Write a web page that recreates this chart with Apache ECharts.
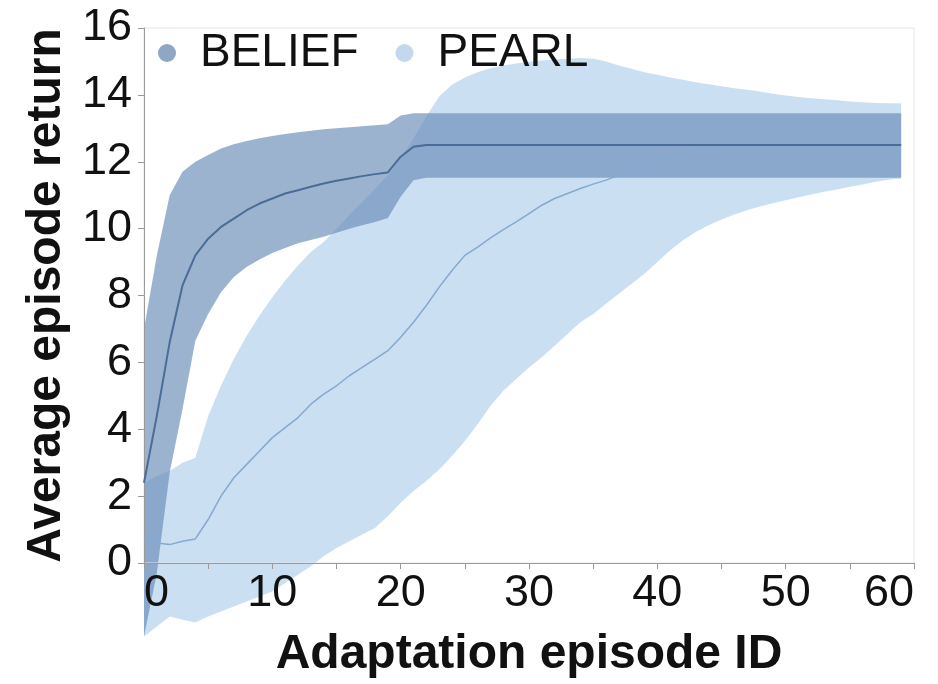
<!DOCTYPE html>
<html>
<head>
<meta charset="utf-8">
<script src="https://cdn.jsdelivr.net/npm/echarts@6/dist/echarts.min.js"></script>
<style>
html,body{margin:0;padding:0;background:#fff;}
#chart{width:938px;height:684px;}
</style>
</head>
<body>
<div id="chart"></div>
<script>
// ---- data ----
const episodes = [0,1,2,3,4,5,6,7,8,9,10,11,12,13,14,15,16,17,18,19,20,21,22,23,24,25,26,27,28,29,30,31,32,33,34,35,36,37,38,39,40,41,42,43,44,45,46,47,48,49,50,51,52,53,54,55,56,57,58,59];

const beliefMean = [2.4,4.4,6.6,8.3,9.2,9.7,10.05,10.3,10.55,10.75,10.9,11.05,11.15,11.25,11.35,11.43,11.5,11.57,11.63,11.68,12.15,12.45,12.5,12.5,12.5,12.5,12.5,12.5,12.5,12.5,12.5,12.5,12.5,12.5,12.5,12.5,12.5,12.5,12.5,12.5,12.5,12.5,12.5,12.5,12.5,12.5,12.5,12.5,12.5,12.5,12.5,12.5,12.5,12.5,12.5,12.5,12.5,12.5,12.5,12.5];
const beliefUpper = [7.0,9.2,11.0,11.7,12.0,12.2,12.4,12.52,12.62,12.7,12.77,12.83,12.88,12.93,12.97,13.0,13.03,13.06,13.09,13.12,13.38,13.45,13.45,13.45,13.45,13.45,13.45,13.45,13.45,13.45,13.45,13.45,13.45,13.45,13.45,13.45,13.45,13.45,13.45,13.45,13.45,13.45,13.45,13.45,13.45,13.45,13.45,13.45,13.45,13.45,13.45,13.45,13.45,13.45,13.45,13.45,13.45,13.45,13.45,13.45];
const beliefLower = [-2.2,-0.3,2.7,4.6,6.65,7.45,8.1,8.55,8.85,9.08,9.27,9.42,9.56,9.66,9.76,9.88,10.0,10.1,10.2,10.32,10.95,11.45,11.52,11.52,11.52,11.52,11.52,11.52,11.52,11.52,11.52,11.52,11.52,11.52,11.52,11.52,11.52,11.52,11.52,11.52,11.52,11.52,11.52,11.52,11.52,11.52,11.52,11.52,11.52,11.52,11.52,11.52,11.52,11.52,11.52,11.52,11.52,11.52,11.52,11.52];

const pearlMean = [0.75,0.6,0.55,0.65,0.72,1.3,2.0,2.55,2.95,3.35,3.75,4.05,4.35,4.75,5.05,5.3,5.6,5.85,6.1,6.35,6.75,7.2,7.7,8.25,8.75,9.2,9.45,9.72,9.97,10.2,10.45,10.7,10.9,11.05,11.2,11.33,11.45,11.6,11.75,11.9,12.05,12.15,12.25,12.32,12.38,12.43,12.46,12.48,12.49,12.5,12.5,12.5,12.5,12.5,12.5,12.5,12.5,12.5,12.5,12.5];
const pearlUpper = [2.4,2.6,2.75,3.0,3.15,4.4,5.3,6.1,6.8,7.4,7.95,8.45,8.9,9.3,9.6,10.0,10.4,10.8,11.2,11.6,12.1,12.7,13.35,13.95,14.3,14.52,14.68,14.8,14.88,14.94,14.99,15.03,15.06,15.08,15.1,15.08,15.0,14.88,14.78,14.68,14.6,14.52,14.45,14.38,14.32,14.26,14.2,14.15,14.1,14.03,13.98,13.94,13.9,13.87,13.84,13.8,13.78,13.76,13.75,13.75];
const pearlLower = [-2.2,-1.9,-1.6,-1.7,-1.78,-1.6,-1.45,-1.3,-1.15,-1.0,-0.85,-0.6,-0.35,-0.1,0.2,0.45,0.65,0.85,1.05,1.4,1.8,2.15,2.45,2.8,3.2,3.65,4.15,4.7,5.15,5.5,5.85,6.15,6.5,6.85,7.2,7.45,7.75,8.05,8.35,8.65,9.0,9.35,9.65,9.9,10.1,10.27,10.42,10.55,10.66,10.76,10.85,10.94,11.02,11.1,11.17,11.25,11.32,11.4,11.46,11.5];

const xTicks = [0,10,20,30,40,50,60];
const yTicks = [0,2,4,6,8,10,12,14,16];

// ---- build ----
const FONT = 'Liberation Sans, Arial, sans-serif';
const pairs = (ys) => episodes.map((x, i) => [x, ys[i]]);

function bandSeries(name, upper, lower, fill, opacity) {
  // one polygon: upper edge left->right, lower edge right->left, mapped by the axes
  const data = episodes.map((x, i) => [x, lower[i], upper[i]]);
  return {
    name: name, type: 'custom', clip: false, silent: true, z: -1,
    encode: { x: 0, y: [1, 2] },
    itemStyle: { color: fill },
    data: data,
    renderItem: function (params, api) {
      if (params.dataIndex !== 0) return null;
      const top = data.map((d) => api.coord([d[0], d[2]]));
      const bot = data.slice().reverse().map((d) => api.coord([d[0], d[1]]));
      return {
        type: 'polygon',
        shape: { points: top.concat(bot) },
        style: { fill: fill, opacity: opacity }
      };
    }
  };
}

const chart = echarts.init(document.getElementById('chart'), null, { renderer: 'canvas' });
chart.setOption({
  animation: false,
  backgroundColor: '#ffffff',
  grid: { left: 144, right: 24, top: 28, bottom: 116, show: true, borderColor: '#e4e4e4', borderWidth: 1 },
  legend: {
    left: 153, top: 21, orient: 'horizontal',
    icon: 'circle', itemWidth: 18, itemHeight: 18, itemGap: 37,
    textStyle: { fontFamily: FONT, fontSize: 46, color: '#111', lineHeight: 46, padding: [0, 0, 8, 19] },
    data: [
      { name: 'BELIEF', itemStyle: { color: '#8fa6c4' } },
      { name: 'PEARL', itemStyle: { color: '#c3d8ec' } }
    ]
  },
  xAxis: {
    type: 'value', min: 0, max: 60, interval: 5,
    name: 'Adaptation episode ID', nameLocation: 'middle', nameGap: 68,
    nameTextStyle: { fontFamily: FONT, fontSize: 48, fontWeight: 'bold', color: '#111' },
    axisLine: { show: true, lineStyle: { color: '#9a9a9a', width: 1 } },
    axisTick: { show: true, length: 6, lineStyle: { color: '#9a9a9a' } },
    splitLine: { show: false },
    axisLabel: {
      fontFamily: FONT, fontSize: 45, color: '#111', margin: 8,
      alignMinLabel: 'left', alignMaxLabel: 'right',
      formatter: (v) => (xTicks.indexOf(v) >= 0 ? String(v) : '')
    }
  },
  yAxis: {
    type: 'value', min: 0, max: 16, interval: 2,
    name: 'Average episode return', nameLocation: 'middle', nameGap: 72,
    nameTextStyle: { fontFamily: FONT, fontSize: 48, fontWeight: 'bold', color: '#111' },
    axisLine: { show: true, lineStyle: { color: '#9a9a9a', width: 1 } },
    axisTick: { show: true, length: 6, lineStyle: { color: '#9a9a9a' } },
    splitLine: { show: false },
    axisLabel: {
      fontFamily: FONT, fontSize: 45, color: '#111', margin: 12,
      formatter: (v) => (yTicks.indexOf(v) >= 0 ? String(v) : '')
    }
  },
  series: [
    bandSeries('PEARL', pearlUpper, pearlLower, 'rgb(166,201,234)', 0.6),
    bandSeries('BELIEF', beliefUpper, beliefLower, 'rgb(104,139,182)', 0.66),
    {
      name: 'PEARL mean', type: 'line', symbol: 'none', showSymbol: false, clip: false, silent: true,
      data: pairs(pearlMean), lineStyle: { color: '#85a9d0', width: 1.5 }
    },
    {
      name: 'BELIEF mean', type: 'line', symbol: 'none', showSymbol: false, clip: false, silent: true,
      data: pairs(beliefMean), lineStyle: { color: '#4a6c98', width: 2 }
    }
  ]
});
</script>
</body>
</html>
